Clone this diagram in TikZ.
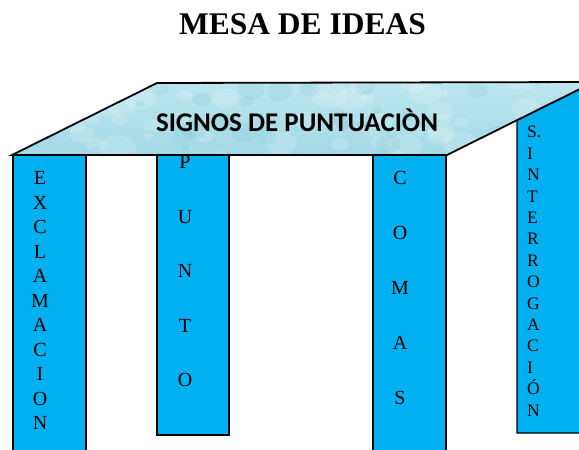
\documentclass[tikz,border=0pt]{standalone}
\usepackage{fontspec}
\setmainfont{Liberation Serif}
\newfontfamily\calibri{Carlito}
\definecolor{legblue}{HTML}{00B0F0}
\definecolor{waterA}{HTML}{BDE6EF}
\definecolor{waterB}{HTML}{A3D9E5}
\definecolor{waterC}{HTML}{7FC0D2}
\begin{document}
\begin{tikzpicture}[x=1pt,y=-1pt,
  leg/.style={draw=black, line width=1.3pt, fill=legblue},
  ltr/.style={font=\fontsize{20}{24}\selectfont, inner sep=0pt, anchor=base},
  sltr/.style={font=\fontsize{17.5}{21}\selectfont, inner sep=0pt, anchor=base west},
  topedge/.style={draw=black, line width=1.8pt, line join=miter}]
\useasboundingbox (0,0) rectangle (579,450);
\clip (0,0) rectangle (579,450);
\node[font=\bfseries\fontsize{31.5}{34}\selectfont, anchor=base, inner sep=0pt] (title) at (302.5,34) {MESA DE IDEAS};
% table top corners
\coordinate (tl) at (157,83);
\coordinate (tr) at (594,82);
\coordinate (br) at (447,155);
\coordinate (bl) at (12,155);
% back leg (top follows the table's right edge)
\coordinate (sl) at (517,120.2);
\coordinate (sr) at (600,79);
\draw[leg] (sl) -- (517,433) -- (600,433) -- (sr) -- cycle;
% table top
\shade[top color=waterA, bottom color=waterB] (tl)--(tr)--(br)--(bl)--cycle;
\begin{scope}
  \clip (tl)--(tr)--(br)--(bl)--cycle;
  \pgfmathsetseed{11}
  \foreach \i in {1,...,60} {
    \pgfmathsetmacro\xx{rnd*600}
    \pgfmathsetmacro\yy{80+rnd*80}
    \pgfmathsetmacro\rr{5+rnd*14}
    \fill[white, opacity=0.15] (\xx,\yy) ellipse [x radius=\rr pt, y radius=0.7*\rr pt];
  }
  \foreach \i in {1,...,35} {
    \pgfmathsetmacro\xx{rnd*600}
    \pgfmathsetmacro\yy{80+rnd*80}
    \pgfmathsetmacro\rr{4+rnd*10}
    \fill[waterC, opacity=0.18] (\xx,\yy) ellipse [x radius=\rr pt, y radius=0.8*\rr pt];
  }
\end{scope}
\draw[topedge] (tl)--(tr)--(br)--(bl)--cycle;
\node[font=\calibri\bfseries\fontsize{27}{30}\selectfont, anchor=base, inner sep=0pt] (tabletitle) at (297,131) {SIGNOS DE PUNTUACIÒN};
% front legs
\draw[leg] (13,155) rectangle (86,460);
\draw[leg] (157,155) rectangle (229,435);
\draw[leg] (373,155) rectangle (446,460);
% letters
\foreach \l [count=\i from 0] in {E,X,C,L,A,M,A,C,I,O,N}
  \node[ltr] (ex\i) at (40,184.5+24.5*\i) {\l};
\foreach \l [count=\i from 0] in {P,U,N,T,O}
  \node[ltr] (pu\i) at (185,168.5+54.5*\i) {\l};
\foreach \l [count=\i from 0] in {C,O,M,A,S}
  \node[ltr] (co\i) at (400,184.5+55*\i) {\l};
\foreach \l [count=\i from 0] in {S.,I,N,T,E,R,R,O,G,A,C,I,Ó,N}
  \node[sltr] (si\i) at (527,137.8+21.4*\i) {\l};
\end{tikzpicture}
\end{document}
